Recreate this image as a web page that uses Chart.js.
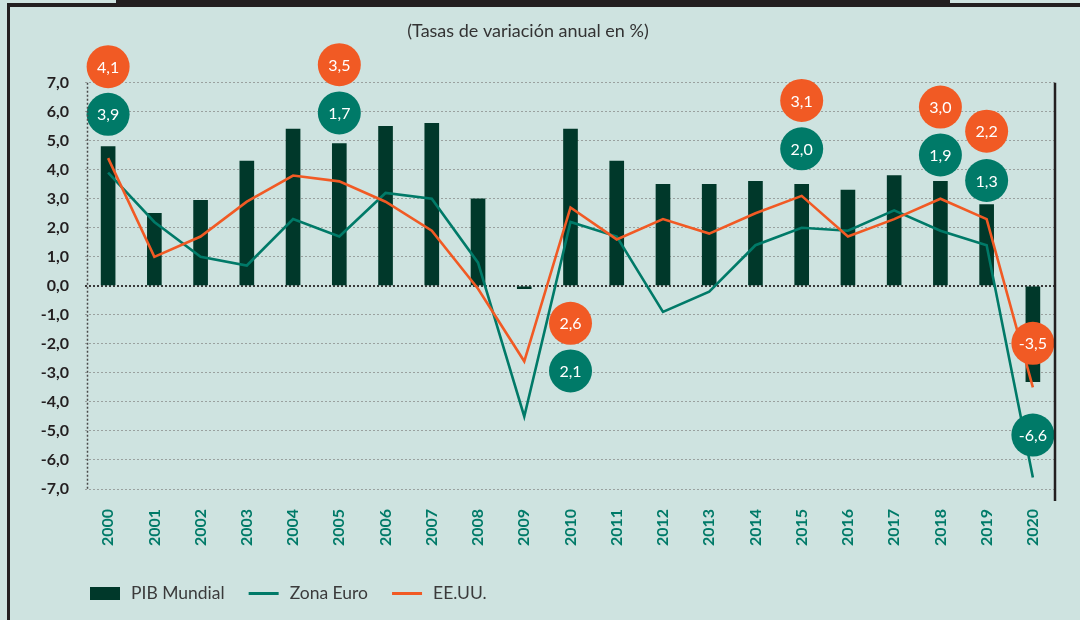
<!DOCTYPE html>
<html>
<head>
<meta charset="utf-8">
<script src="https://cdn.jsdelivr.net/npm/chart.js@4.4.1/dist/chart.umd.min.js"></script>
<style>
    html, body { margin: 0; padding: 0; background: #cee3e0; }
    #wrap { position: relative; width: 1080px; height: 620px; overflow: hidden; background: #cee3e0; }
    .frame { position: absolute; background: #231f20; }
    canvas { position: absolute; left: 0; top: 0; }
</style>
</head>
<body>
<div id="wrap">
    <div class="frame" style="left:7px;top:3px;width:1073px;height:4px"></div>
    <div class="frame" style="left:116px;top:0;width:834px;height:7px"></div>
    <div class="frame" style="left:7px;top:3px;width:3px;height:617px"></div>
    <canvas id="c" width="1080" height="620"></canvas>
</div>
<script>
// datos (tasas de variación anual en %)
const years = ['2000', '2001', '2002', '2003', '2004', '2005', '2006', '2007', '2008', '2009', '2010',
    '2011', '2012', '2013', '2014', '2015', '2016', '2017', '2018', '2019', '2020'];
const pibMundial = [4.8, 2.5, 2.95, 4.3, 5.4, 4.9, 5.5, 5.6, 3.0, -0.1, 5.4, 4.3, 3.5, 3.5, 3.6, 3.5, 3.3, 3.8, 3.6, 2.8, -3.3];
const zonaEuro = [3.9, 2.2, 1.0, 0.7, 2.3, 1.7, 3.2, 3.0, 0.8, -4.5, 2.2, 1.7, -0.9, -0.2, 1.4, 2.0, 1.9, 2.6, 1.9, 1.4, -6.6];
const eeuu = [4.4, 1.0, 1.7, 2.9, 3.8, 3.6, 2.9, 1.9, -0.1, -2.6, 2.7, 1.6, 2.3, 1.8, 2.5, 3.1, 1.7, 2.3, 3.0, 2.3, -3.5];
const yTicks = [-7, -6, -5, -4, -3, -2, -1, 0, 1, 2, 3, 4, 5, 6, 7];

// valores destacados en los círculos
const calloutYears = ['2000', '2005', '2010', '2015', '2018', '2019', '2020'];
const eeuuCallout = [4.1, 3.5, 2.6, 3.1, 3.0, 2.2, -3.5];
const zonaCallout = [3.9, 1.7, 2.1, 2.0, 1.9, 1.3, -6.6];

// colores y posición de los círculos (en unidades del eje)
const C_BAR = '#00382a', C_EURO = '#007a68', C_US = '#f15a24', C_TXT = '#231f20';
const eeuuAt = [7.55, 7.62, -1.29, 6.39, 6.16, 5.33, -1.98];
const zonaAt = [5.91, 5.96, -2.93, 4.72, 4.51, 3.63, -5.14];

const fmt = v => v.toFixed(1).replace('.', ',');
const place = at => years.map(y => {
    const i = calloutYears.indexOf(y);
    return i < 0 ? null : at[i];
});

const bubbleText = {
    id: 'bubbleText',
    afterDatasetsDraw(chart) {
        const ctx = chart.ctx;
        ctx.save();
        ctx.fillStyle = '#fff';
        ctx.font = '16px Lato';
        ctx.textAlign = 'center';
        ctx.textBaseline = 'middle';
        chart.data.datasets.forEach((ds, di) => {
            if (!ds.callout) return;
            chart.getDatasetMeta(di).data.forEach((pt, i) => {
                const k = calloutYears.indexOf(years[i]);
                if (k < 0) return;
                ctx.fillText(fmt(ds.callout[k]), pt.x, pt.y + 1);
            });
        });
        ctx.restore();
    }
};

const frameAndLegend = {
    id: 'frameAndLegend',
    afterDraw(chart) {
        const {ctx, chartArea: a} = chart;
        ctx.save();
        // eje izquierdo punteado
        ctx.strokeStyle = '#4a4a4a';
        ctx.lineWidth = 1.5;
        ctx.setLineDash([2, 2]);
        ctx.beginPath();
        ctx.moveTo(a.left + 2.5, a.top);
        ctx.lineTo(a.left + 2.5, a.bottom);
        ctx.stroke();
        // borde derecho
        ctx.setLineDash([]);
        ctx.strokeStyle = C_TXT;
        ctx.lineWidth = 2.5;
        ctx.beginPath();
        ctx.moveTo(a.right - 1, a.top);
        ctx.lineTo(a.right - 1, a.bottom + 12);
        ctx.stroke();

        // leyenda
        const items = [
            {text: 'PIB Mundial', box: true, color: C_BAR},
            {text: 'Zona Euro', box: false, color: C_EURO},
            {text: 'EE.UU.', box: false, color: C_US}
        ];
        let x = a.left + 5;
        const y = 593.5;
        ctx.font = '17.5px Lato';
        ctx.textBaseline = 'middle';
        items.forEach(it => {
            if (it.box) {
                ctx.fillStyle = it.color;
                ctx.fillRect(x, y - 6.5, 30, 13);
            } else {
                ctx.strokeStyle = it.color;
                ctx.lineWidth = 3;
                ctx.beginPath();
                ctx.moveTo(x, y);
                ctx.lineTo(x + 30, y);
                ctx.stroke();
            }
            ctx.fillStyle = '#3b3b3b';
            ctx.fillText(it.text, x + 41, y);
            x += 41 + ctx.measureText(it.text).width + 24;
        });
        ctx.restore();
    }
};

new Chart(document.getElementById('c'), {
    data: {
        labels: years,
        datasets: [
            {type: 'line', label: 'EE.UU. (valor)', data: place(eeuuAt), callout: eeuuCallout, showLine: false,
                pointRadius: 21.5, pointHoverRadius: 21.5, pointBackgroundColor: C_US, pointBorderWidth: 0,
                clip: false, order: 0},
            {type: 'line', label: 'Zona Euro (valor)', data: place(zonaAt), callout: zonaCallout, showLine: false,
                pointRadius: 21.5, pointHoverRadius: 21.5, pointBackgroundColor: C_EURO, pointBorderWidth: 0,
                clip: false, order: 0},
            {type: 'line', label: 'EE.UU.', data: eeuu, borderColor: C_US, borderWidth: 2.6,
                pointRadius: 0, tension: 0, clip: false, order: 1},
            {type: 'line', label: 'Zona Euro', data: zonaEuro, borderColor: C_EURO, borderWidth: 2.6,
                pointRadius: 0, tension: 0, clip: false, order: 2},
            {type: 'bar', label: 'PIB Mundial', data: pibMundial, backgroundColor: C_BAR,
                barThickness: 14, order: 3}
        ]
    },
    options: {
        responsive: false,
        animation: false,
        layout: {padding: {left: 0, right: 24, top: 0, bottom: 61}},
        plugins: {
            legend: {display: false},
            tooltip: {enabled: false},
            title: {
                display: true, text: '(Tasas de variación anual en %)', color: '#333',
                font: {family: 'Lato', size: 18, weight: 'normal'}, padding: {top: 20.2, bottom: 40.9}
            }
        },
        scales: {
            x: {
                grid: {display: false}, border: {display: false},
                ticks: {color: C_EURO, font: {family: 'Lato', size: 16, weight: 'bold'}, maxRotation: 90, minRotation: 90,
                    autoSkip: false, padding: 12},
                afterFit: s => { s.height = 70; }
            },
            y: {
                min: yTicks[0], max: yTicks[yTicks.length - 1],
                afterBuildTicks: s => { s.ticks = yTicks.map(v => ({value: v})); },
                afterFit: s => { s.width = 85; },
                ticks: {callback: v => fmt(v), color: C_TXT, font: {family: 'Lato', size: 16, weight: 'bold'}, padding: 16},
                grid: {
                    drawTicks: false,
                    color: c => c.tick && c.tick.value === 0 ? '#3a3a3a' : '#9aa19f',
                    lineWidth: c => c.tick && c.tick.value === 0 ? 2 : 1
                },
                border: {display: false, dash: [2, 2]}
            }
        }
    },
    plugins: [bubbleText, frameAndLegend]
});
</script>
</body>
</html>
